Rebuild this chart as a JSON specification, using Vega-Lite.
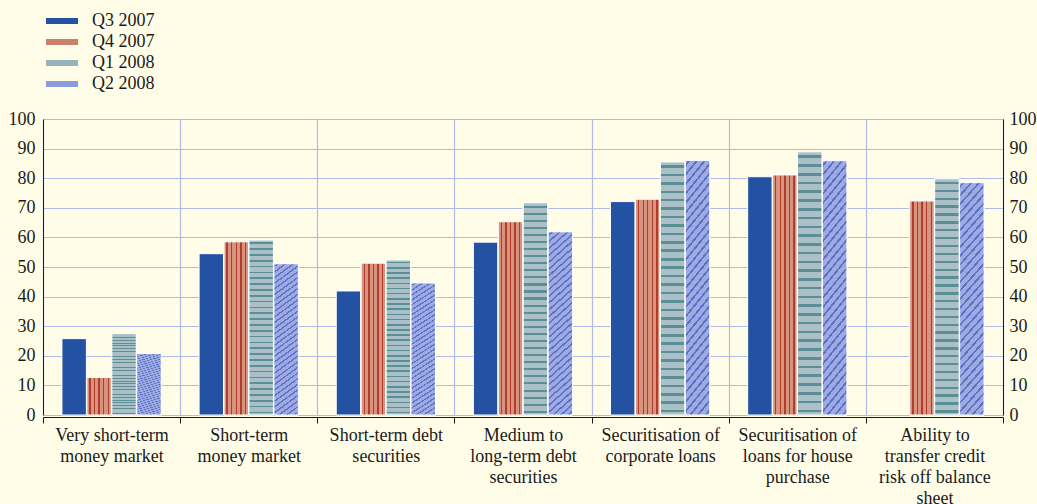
{
  "$schema": "https://vega.github.io/schema/vega-lite/v6.json",
  "width": 960,
  "height": 296,
  "autosize": {"type": "none"},
  "padding": {"left": 43, "top": 119, "right": 34, "bottom": 89},
  "background": "#fffde8",
  "config": {
    "view": {"stroke": null},
    "font": "Liberation Serif",
    "axis": {"labelFont": "Liberation Serif", "labelFontSize": 18, "labelColor": "#1a1a1a", "domainColor": "#1a1a1a", "tickColor": "#1a1a1a", "gridColor": "#b0bbe8", "gridOpacity": 1, "gridWidth": 1.2},
    "legend": {"labelFont": "Liberation Serif", "labelFontSize": 18, "labelColor": "#1a1a1a"}
  },
  "data": {
    "values": [
      {"category": "Very short-term money market", "period": "Q3 2007", "value": 25.8},
      {"category": "Very short-term money market", "period": "Q4 2007", "value": 12.7},
      {"category": "Very short-term money market", "period": "Q1 2008", "value": 27.5},
      {"category": "Very short-term money market", "period": "Q2 2008", "value": 20.8},
      {"category": "Short-term money market", "period": "Q3 2007", "value": 54.5},
      {"category": "Short-term money market", "period": "Q4 2007", "value": 58.5},
      {"category": "Short-term money market", "period": "Q1 2008", "value": 59.1},
      {"category": "Short-term money market", "period": "Q2 2008", "value": 51.1},
      {"category": "Short-term debt securities", "period": "Q3 2007", "value": 41.9},
      {"category": "Short-term debt securities", "period": "Q4 2007", "value": 51.3},
      {"category": "Short-term debt securities", "period": "Q1 2008", "value": 52.4},
      {"category": "Short-term debt securities", "period": "Q2 2008", "value": 44.6},
      {"category": "Medium to long-term debt securities", "period": "Q3 2007", "value": 58.4},
      {"category": "Medium to long-term debt securities", "period": "Q4 2007", "value": 65.3},
      {"category": "Medium to long-term debt securities", "period": "Q1 2008", "value": 71.7},
      {"category": "Medium to long-term debt securities", "period": "Q2 2008", "value": 61.9},
      {"category": "Securitisation of corporate loans", "period": "Q3 2007", "value": 72.1},
      {"category": "Securitisation of corporate loans", "period": "Q4 2007", "value": 72.9},
      {"category": "Securitisation of corporate loans", "period": "Q1 2008", "value": 85.5},
      {"category": "Securitisation of corporate loans", "period": "Q2 2008", "value": 86.0},
      {"category": "Securitisation of loans for house purchase", "period": "Q3 2007", "value": 80.5},
      {"category": "Securitisation of loans for house purchase", "period": "Q4 2007", "value": 81.1},
      {"category": "Securitisation of loans for house purchase", "period": "Q1 2008", "value": 88.9},
      {"category": "Securitisation of loans for house purchase", "period": "Q2 2008", "value": 85.9},
      {"category": "Ability to transfer credit risk off balance sheet", "period": "Q4 2007", "value": 72.3},
      {"category": "Ability to transfer credit risk off balance sheet", "period": "Q1 2008", "value": 79.8},
      {"category": "Ability to transfer credit risk off balance sheet", "period": "Q2 2008", "value": 78.5}
    ]
  },
  "encoding": {
    "x": {
      "field": "category", "type": "nominal",
      "scale": {"domain": ["Very short-term money market", "Short-term money market", "Short-term debt securities", "Medium to long-term debt securities", "Securitisation of corporate loans", "Securitisation of loans for house purchase", "Ability to transfer credit risk off balance sheet"], "paddingInner": 0, "paddingOuter": 0},
      "axis": {
        "title": null, "labelAngle": 0, "tickBand": "extent", "grid": true, "offset": 2,
        "tickSize": 6, "labelPadding": 3, "labelLineHeight": 21, "labelBaseline": "top",
        "labelOverlap": false, "labelBound": false, "labelFlush": false, "labelAlign": "center",
        "labelExpr": "datum.value == 'Very short-term money market' ? ['Very short-term','money market'] : datum.value == 'Short-term money market' ? ['Short-term','money market'] : datum.value == 'Short-term debt securities' ? ['Short-term debt','securities'] : datum.value == 'Medium to long-term debt securities' ? ['Medium to','long-term debt','securities'] : datum.value == 'Securitisation of corporate loans' ? ['Securitisation of','corporate loans'] : datum.value == 'Securitisation of loans for house purchase' ? ['Securitisation of','loans for house','purchase'] : datum.value == 'Ability to transfer credit risk off balance sheet' ? ['Ability to','transfer credit','risk off balance','sheet'] : ''"
      }
    },
    "xOffset": {"field": "period", "type": "nominal", "scale": {"domain": ["Q3 2007", "Q4 2007", "Q1 2008", "Q2 2008"], "paddingInner": 0.02, "paddingOuter": 0.76}},
    "y": {"field": "value", "type": "quantitative", "scale": {"domain": [0, 100], "nice": false}, "axis": null}
  },
  "resolve": {"axis": {"y": "independent"}},
  "layer": [
    {
      "mark": {"type": "bar", "stroke": "white", "strokeWidth": 1},
      "encoding": {
        "y": {"field": "value", "type": "quantitative", "scale": {"domain": [0, 100], "nice": false},
          "axis": {"title": null, "orient": "left", "values": [0,10,20,30,40,50,60,70,80,90,100], "ticks": false, "labelPadding": 8, "grid": true, "domain": true}},
        "color": {
          "field": "period", "type": "nominal",
          "scale": {"domain": ["Q3 2007", "Q4 2007", "Q1 2008", "Q2 2008"], "range": ["#2352a3", "#cc7f6d", "#96b3bb", "#8b9cdc"]},
          "legend": {
            "title": null, "orient": "none", "legendX": 10, "legendY": -107, "padding": 0,
            "symbolType": "M-2,-0.375H2V0.375H-2Z", "symbolSize": 256, "symbolStrokeWidth": 0,
            "labelOffset": 21, "rowPadding": 3, "symbolOpacity": 1
          }
        }
      }
    },
    {
      "transform": [{"filter": "datum.period == 'Q4 2007'"}],
      "mark": {"type": "bar", "stroke": "white", "strokeWidth": 1,
        "fill": {"gradient": "linear", "x1": 0, "y1": 0, "x2": 1, "y2": 0, "stops": [
          {"offset": 0, "color": "#d8937f"}, {"offset": 0.1, "color": "#d8937f"}, {"offset": 0.1, "color": "#b03c2c"}, {"offset": 0.155, "color": "#b03c2c"}, {"offset": 0.155, "color": "#d8937f"},
          {"offset": 0.29, "color": "#d8937f"}, {"offset": 0.29, "color": "#b03c2c"}, {"offset": 0.345, "color": "#b03c2c"}, {"offset": 0.345, "color": "#d8937f"},
          {"offset": 0.475, "color": "#d8937f"}, {"offset": 0.475, "color": "#b03c2c"}, {"offset": 0.53, "color": "#b03c2c"}, {"offset": 0.53, "color": "#d8937f"},
          {"offset": 0.66, "color": "#d8937f"}, {"offset": 0.66, "color": "#b03c2c"}, {"offset": 0.715, "color": "#b03c2c"}, {"offset": 0.715, "color": "#d8937f"},
          {"offset": 0.85, "color": "#d8937f"}, {"offset": 0.85, "color": "#b03c2c"}, {"offset": 0.905, "color": "#b03c2c"}, {"offset": 0.905, "color": "#d8937f"},
          {"offset": 1, "color": "#d8937f"}
        ]}
      },
      "encoding": {}
    },
    {
      "transform": [{"filter": "datum.period == 'Q1 2008'"}],
      "mark": {"type": "bar", "stroke": "white", "strokeWidth": 1,
        "fill": {"gradient": "linear", "x1": 0, "y1": 0, "x2": 0, "y2": 1, "stops": [
          {"offset": 0, "color": "#abc0c6"},
          {"offset": 0.013, "color": "#abc0c6"}, {"offset": 0.013, "color": "#5b8f98"}, {"offset": 0.023, "color": "#5b8f98"}, {"offset": 0.023, "color": "#abc0c6"},
          {"offset": 0.046, "color": "#abc0c6"}, {"offset": 0.046, "color": "#5b8f98"}, {"offset": 0.056, "color": "#5b8f98"}, {"offset": 0.056, "color": "#abc0c6"},
          {"offset": 0.08, "color": "#abc0c6"}, {"offset": 0.08, "color": "#5b8f98"}, {"offset": 0.09, "color": "#5b8f98"}, {"offset": 0.09, "color": "#abc0c6"},
          {"offset": 0.113, "color": "#abc0c6"}, {"offset": 0.113, "color": "#5b8f98"}, {"offset": 0.123, "color": "#5b8f98"}, {"offset": 0.123, "color": "#abc0c6"},
          {"offset": 0.146, "color": "#abc0c6"}, {"offset": 0.146, "color": "#5b8f98"}, {"offset": 0.156, "color": "#5b8f98"}, {"offset": 0.156, "color": "#abc0c6"},
          {"offset": 0.18, "color": "#abc0c6"}, {"offset": 0.18, "color": "#5b8f98"}, {"offset": 0.19, "color": "#5b8f98"}, {"offset": 0.19, "color": "#abc0c6"},
          {"offset": 0.213, "color": "#abc0c6"}, {"offset": 0.213, "color": "#5b8f98"}, {"offset": 0.223, "color": "#5b8f98"}, {"offset": 0.223, "color": "#abc0c6"},
          {"offset": 0.246, "color": "#abc0c6"}, {"offset": 0.246, "color": "#5b8f98"}, {"offset": 0.256, "color": "#5b8f98"}, {"offset": 0.256, "color": "#abc0c6"},
          {"offset": 0.28, "color": "#abc0c6"}, {"offset": 0.28, "color": "#5b8f98"}, {"offset": 0.29, "color": "#5b8f98"}, {"offset": 0.29, "color": "#abc0c6"},
          {"offset": 0.313, "color": "#abc0c6"}, {"offset": 0.313, "color": "#5b8f98"}, {"offset": 0.323, "color": "#5b8f98"}, {"offset": 0.323, "color": "#abc0c6"},
          {"offset": 0.346, "color": "#abc0c6"}, {"offset": 0.346, "color": "#5b8f98"}, {"offset": 0.356, "color": "#5b8f98"}, {"offset": 0.356, "color": "#abc0c6"},
          {"offset": 0.38, "color": "#abc0c6"}, {"offset": 0.38, "color": "#5b8f98"}, {"offset": 0.39, "color": "#5b8f98"}, {"offset": 0.39, "color": "#abc0c6"},
          {"offset": 0.413, "color": "#abc0c6"}, {"offset": 0.413, "color": "#5b8f98"}, {"offset": 0.423, "color": "#5b8f98"}, {"offset": 0.423, "color": "#abc0c6"},
          {"offset": 0.446, "color": "#abc0c6"}, {"offset": 0.446, "color": "#5b8f98"}, {"offset": 0.456, "color": "#5b8f98"}, {"offset": 0.456, "color": "#abc0c6"},
          {"offset": 0.48, "color": "#abc0c6"}, {"offset": 0.48, "color": "#5b8f98"}, {"offset": 0.49, "color": "#5b8f98"}, {"offset": 0.49, "color": "#abc0c6"},
          {"offset": 0.513, "color": "#abc0c6"}, {"offset": 0.513, "color": "#5b8f98"}, {"offset": 0.523, "color": "#5b8f98"}, {"offset": 0.523, "color": "#abc0c6"},
          {"offset": 0.546, "color": "#abc0c6"}, {"offset": 0.546, "color": "#5b8f98"}, {"offset": 0.556, "color": "#5b8f98"}, {"offset": 0.556, "color": "#abc0c6"},
          {"offset": 0.58, "color": "#abc0c6"}, {"offset": 0.58, "color": "#5b8f98"}, {"offset": 0.59, "color": "#5b8f98"}, {"offset": 0.59, "color": "#abc0c6"},
          {"offset": 0.613, "color": "#abc0c6"}, {"offset": 0.613, "color": "#5b8f98"}, {"offset": 0.623, "color": "#5b8f98"}, {"offset": 0.623, "color": "#abc0c6"},
          {"offset": 0.646, "color": "#abc0c6"}, {"offset": 0.646, "color": "#5b8f98"}, {"offset": 0.656, "color": "#5b8f98"}, {"offset": 0.656, "color": "#abc0c6"},
          {"offset": 0.68, "color": "#abc0c6"}, {"offset": 0.68, "color": "#5b8f98"}, {"offset": 0.69, "color": "#5b8f98"}, {"offset": 0.69, "color": "#abc0c6"},
          {"offset": 0.713, "color": "#abc0c6"}, {"offset": 0.713, "color": "#5b8f98"}, {"offset": 0.723, "color": "#5b8f98"}, {"offset": 0.723, "color": "#abc0c6"},
          {"offset": 0.746, "color": "#abc0c6"}, {"offset": 0.746, "color": "#5b8f98"}, {"offset": 0.756, "color": "#5b8f98"}, {"offset": 0.756, "color": "#abc0c6"},
          {"offset": 0.78, "color": "#abc0c6"}, {"offset": 0.78, "color": "#5b8f98"}, {"offset": 0.79, "color": "#5b8f98"}, {"offset": 0.79, "color": "#abc0c6"},
          {"offset": 0.813, "color": "#abc0c6"}, {"offset": 0.813, "color": "#5b8f98"}, {"offset": 0.823, "color": "#5b8f98"}, {"offset": 0.823, "color": "#abc0c6"},
          {"offset": 0.846, "color": "#abc0c6"}, {"offset": 0.846, "color": "#5b8f98"}, {"offset": 0.856, "color": "#5b8f98"}, {"offset": 0.856, "color": "#abc0c6"},
          {"offset": 0.88, "color": "#abc0c6"}, {"offset": 0.88, "color": "#5b8f98"}, {"offset": 0.89, "color": "#5b8f98"}, {"offset": 0.89, "color": "#abc0c6"},
          {"offset": 0.913, "color": "#abc0c6"}, {"offset": 0.913, "color": "#5b8f98"}, {"offset": 0.923, "color": "#5b8f98"}, {"offset": 0.923, "color": "#abc0c6"},
          {"offset": 0.946, "color": "#abc0c6"}, {"offset": 0.946, "color": "#5b8f98"}, {"offset": 0.956, "color": "#5b8f98"}, {"offset": 0.956, "color": "#abc0c6"},
          {"offset": 0.98, "color": "#abc0c6"}, {"offset": 0.98, "color": "#5b8f98"}, {"offset": 0.99, "color": "#5b8f98"}, {"offset": 0.99, "color": "#abc0c6"},
          {"offset": 1, "color": "#abc0c6"}
        ]}
      },
      "encoding": {}
    },
    {
      "transform": [{"filter": "datum.period == 'Q2 2008'"}],
      "mark": {"type": "bar", "stroke": "white", "strokeWidth": 1,
        "fill": {"gradient": "linear", "x1": 0, "y1": 0, "x2": 0.13, "y2": 1.1, "stops": [
          {"offset": 0, "color": "#9dabe2"},
          {"offset": 0.013, "color": "#9dabe2"}, {"offset": 0.013, "color": "#5d72c6"}, {"offset": 0.023, "color": "#5d72c6"}, {"offset": 0.023, "color": "#9dabe2"},
          {"offset": 0.046, "color": "#9dabe2"}, {"offset": 0.046, "color": "#5d72c6"}, {"offset": 0.056, "color": "#5d72c6"}, {"offset": 0.056, "color": "#9dabe2"},
          {"offset": 0.08, "color": "#9dabe2"}, {"offset": 0.08, "color": "#5d72c6"}, {"offset": 0.09, "color": "#5d72c6"}, {"offset": 0.09, "color": "#9dabe2"},
          {"offset": 0.113, "color": "#9dabe2"}, {"offset": 0.113, "color": "#5d72c6"}, {"offset": 0.123, "color": "#5d72c6"}, {"offset": 0.123, "color": "#9dabe2"},
          {"offset": 0.146, "color": "#9dabe2"}, {"offset": 0.146, "color": "#5d72c6"}, {"offset": 0.156, "color": "#5d72c6"}, {"offset": 0.156, "color": "#9dabe2"},
          {"offset": 0.18, "color": "#9dabe2"}, {"offset": 0.18, "color": "#5d72c6"}, {"offset": 0.19, "color": "#5d72c6"}, {"offset": 0.19, "color": "#9dabe2"},
          {"offset": 0.213, "color": "#9dabe2"}, {"offset": 0.213, "color": "#5d72c6"}, {"offset": 0.223, "color": "#5d72c6"}, {"offset": 0.223, "color": "#9dabe2"},
          {"offset": 0.246, "color": "#9dabe2"}, {"offset": 0.246, "color": "#5d72c6"}, {"offset": 0.256, "color": "#5d72c6"}, {"offset": 0.256, "color": "#9dabe2"},
          {"offset": 0.28, "color": "#9dabe2"}, {"offset": 0.28, "color": "#5d72c6"}, {"offset": 0.29, "color": "#5d72c6"}, {"offset": 0.29, "color": "#9dabe2"},
          {"offset": 0.313, "color": "#9dabe2"}, {"offset": 0.313, "color": "#5d72c6"}, {"offset": 0.323, "color": "#5d72c6"}, {"offset": 0.323, "color": "#9dabe2"},
          {"offset": 0.346, "color": "#9dabe2"}, {"offset": 0.346, "color": "#5d72c6"}, {"offset": 0.356, "color": "#5d72c6"}, {"offset": 0.356, "color": "#9dabe2"},
          {"offset": 0.38, "color": "#9dabe2"}, {"offset": 0.38, "color": "#5d72c6"}, {"offset": 0.39, "color": "#5d72c6"}, {"offset": 0.39, "color": "#9dabe2"},
          {"offset": 0.413, "color": "#9dabe2"}, {"offset": 0.413, "color": "#5d72c6"}, {"offset": 0.423, "color": "#5d72c6"}, {"offset": 0.423, "color": "#9dabe2"},
          {"offset": 0.446, "color": "#9dabe2"}, {"offset": 0.446, "color": "#5d72c6"}, {"offset": 0.456, "color": "#5d72c6"}, {"offset": 0.456, "color": "#9dabe2"},
          {"offset": 0.48, "color": "#9dabe2"}, {"offset": 0.48, "color": "#5d72c6"}, {"offset": 0.49, "color": "#5d72c6"}, {"offset": 0.49, "color": "#9dabe2"},
          {"offset": 0.513, "color": "#9dabe2"}, {"offset": 0.513, "color": "#5d72c6"}, {"offset": 0.523, "color": "#5d72c6"}, {"offset": 0.523, "color": "#9dabe2"},
          {"offset": 0.546, "color": "#9dabe2"}, {"offset": 0.546, "color": "#5d72c6"}, {"offset": 0.556, "color": "#5d72c6"}, {"offset": 0.556, "color": "#9dabe2"},
          {"offset": 0.58, "color": "#9dabe2"}, {"offset": 0.58, "color": "#5d72c6"}, {"offset": 0.59, "color": "#5d72c6"}, {"offset": 0.59, "color": "#9dabe2"},
          {"offset": 0.613, "color": "#9dabe2"}, {"offset": 0.613, "color": "#5d72c6"}, {"offset": 0.623, "color": "#5d72c6"}, {"offset": 0.623, "color": "#9dabe2"},
          {"offset": 0.646, "color": "#9dabe2"}, {"offset": 0.646, "color": "#5d72c6"}, {"offset": 0.656, "color": "#5d72c6"}, {"offset": 0.656, "color": "#9dabe2"},
          {"offset": 0.68, "color": "#9dabe2"}, {"offset": 0.68, "color": "#5d72c6"}, {"offset": 0.69, "color": "#5d72c6"}, {"offset": 0.69, "color": "#9dabe2"},
          {"offset": 0.713, "color": "#9dabe2"}, {"offset": 0.713, "color": "#5d72c6"}, {"offset": 0.723, "color": "#5d72c6"}, {"offset": 0.723, "color": "#9dabe2"},
          {"offset": 0.746, "color": "#9dabe2"}, {"offset": 0.746, "color": "#5d72c6"}, {"offset": 0.756, "color": "#5d72c6"}, {"offset": 0.756, "color": "#9dabe2"},
          {"offset": 0.78, "color": "#9dabe2"}, {"offset": 0.78, "color": "#5d72c6"}, {"offset": 0.79, "color": "#5d72c6"}, {"offset": 0.79, "color": "#9dabe2"},
          {"offset": 0.813, "color": "#9dabe2"}, {"offset": 0.813, "color": "#5d72c6"}, {"offset": 0.823, "color": "#5d72c6"}, {"offset": 0.823, "color": "#9dabe2"},
          {"offset": 0.846, "color": "#9dabe2"}, {"offset": 0.846, "color": "#5d72c6"}, {"offset": 0.856, "color": "#5d72c6"}, {"offset": 0.856, "color": "#9dabe2"},
          {"offset": 0.88, "color": "#9dabe2"}, {"offset": 0.88, "color": "#5d72c6"}, {"offset": 0.89, "color": "#5d72c6"}, {"offset": 0.89, "color": "#9dabe2"},
          {"offset": 0.913, "color": "#9dabe2"}, {"offset": 0.913, "color": "#5d72c6"}, {"offset": 0.923, "color": "#5d72c6"}, {"offset": 0.923, "color": "#9dabe2"},
          {"offset": 0.946, "color": "#9dabe2"}, {"offset": 0.946, "color": "#5d72c6"}, {"offset": 0.956, "color": "#5d72c6"}, {"offset": 0.956, "color": "#9dabe2"},
          {"offset": 0.98, "color": "#9dabe2"}, {"offset": 0.98, "color": "#5d72c6"}, {"offset": 0.99, "color": "#5d72c6"}, {"offset": 0.99, "color": "#9dabe2"},
          {"offset": 1, "color": "#9dabe2"}
        ]}
      },
      "encoding": {
        "y": {"field": "value", "type": "quantitative", "scale": {"domain": [0, 100], "nice": false},
          "axis": {"title": null, "orient": "right", "values": [0,10,20,30,40,50,60,70,80,90,100], "ticks": false, "labelPadding": 6, "grid": false, "domain": true}}
      }
    }
  ]
}
